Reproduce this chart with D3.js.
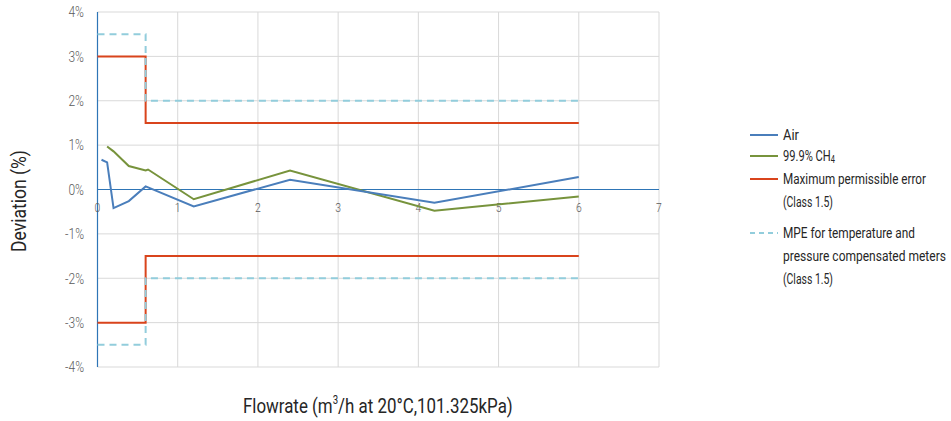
<!DOCTYPE html>
<html><head><meta charset="utf-8">
<script src="https://cdn.jsdelivr.net/npm/d3@7"></script>
<style>body{margin:0;background:#fff}text{font-family:"Roboto",sans-serif}</style>
</head><body><svg id="c" width="951" height="421"></svg>
<script>
const airX = [0.05, 0.12, 0.2, 0.39, 0.6, 1.2, 2.4, 4.2, 6];
const airY = [0.67, 0.61, -0.42, -0.26, 0.07, -0.38, 0.22, -0.3, 0.28];
const ch4X = [0.12, 0.2, 0.39, 0.6, 0.63, 1.2, 2.4, 4.2, 6];
const ch4Y = [0.97, 0.86, 0.53, 0.43, 0.45, -0.22, 0.43, -0.48, -0.16];
const mpeUpX = [0, 0.6, 0.6, 6];
const mpeUpY = [3, 3, 1.5, 1.5];
const mpeLoY = [-3, -3, -1.5, -1.5];
const tpUpX = [0, 0.6, 0.6, 6];
const tpUpY = [3.5, 3.5, 2, 2];
const tpLoY = [-3.5, -3.5, -2, -2];
const xTicks = [0, 1, 2, 3, 4, 5, 6, 7];
const yTicks = [-4, -3, -2, -1, 0, 1, 2, 3, 4];

const svg = d3.select("#c");
const x = d3.scaleLinear().domain([0, 7]).range([97.5, 659]);
const y = d3.scaleLinear().domain([-4, 4]).range([367, 12]);
const line = d3.line().x(d => x(d[0])).y(d => y(d[1]));
const zip = (a, b) => a.map((v, i) => [v, b[i]]);

// condensed text: g translated to (px,py), text scaled horizontally
function ctext(parent, px, py, opts) {
  const g = parent.append("g");
  const t = g.append("text").attr("font-size", opts.size).attr("fill", opts.fill)
    .attr("font-weight", opts.weight || 400).attr("text-anchor", opts.anchor || "start")
    .attr("dy", opts.dy || null);
  opts.build(t);
  let sx = opts.sx;
  if (opts.width) sx = opts.width / t.node().getComputedTextLength();
  g.attr("transform", `translate(${px},${py})${opts.rot ? " rotate(" + opts.rot + ")" : ""} scale(${sx},1)`);
  return t;
}

// gridlines
svg.append("g").selectAll("line").data(yTicks).join("line")
  .attr("x1", x(0)).attr("x2", x(7)).attr("y1", d => y(d)).attr("y2", d => y(d))
  .attr("stroke", "#d9d9d9").attr("stroke-width", 1);
svg.append("g").selectAll("line").data(xTicks.slice(1)).join("line")
  .attr("x1", d => x(d)).attr("x2", d => x(d)).attr("y1", y(4)).attr("y2", y(-4))
  .attr("stroke", "#d9d9d9").attr("stroke-width", 1);

// axes lines
svg.append("line").attr("x1", x(0)).attr("x2", x(0)).attr("y1", y(4)).attr("y2", y(-4))
  .attr("stroke", "#2e75b6").attr("stroke-width", 1.2);
svg.append("line").attr("x1", x(0)).attr("x2", x(7)).attr("y1", y(0)).attr("y2", y(0))
  .attr("stroke", "#2e75b6").attr("stroke-width", 1.2);

// tick labels
const yt = svg.append("g");
yTicks.forEach(v => ctext(yt, 84, y(v), {size: 15, fill: "#595959", weight: 300, anchor: "end", dy: "0.35em", sx: 0.8,
  build: t => t.text(v + "%")}));
const xtk = svg.append("g");
xTicks.forEach(v => ctext(xtk, x(v), y(0) + 22, {size: 13, fill: "#595959", weight: 300, anchor: "middle", sx: 0.8,
  build: t => t.text(v)}));

// series
const red = "#d9441c", lb = "#92cddc";
svg.append("path").attr("d", line(zip(mpeUpX, mpeUpY))).attr("fill", "none").attr("stroke", red).attr("stroke-width", 2);
svg.append("path").attr("d", line(zip(mpeUpX, mpeLoY))).attr("fill", "none").attr("stroke", red).attr("stroke-width", 2);
svg.append("path").attr("d", line(zip(tpUpX, tpUpY))).attr("fill", "none").attr("stroke", lb).attr("stroke-width", 2).attr("stroke-dasharray", "7,5");
svg.append("path").attr("d", line(zip(tpUpX, tpLoY))).attr("fill", "none").attr("stroke", lb).attr("stroke-width", 2).attr("stroke-dasharray", "7,5");
svg.append("path").attr("d", line(zip(ch4X, ch4Y))).attr("fill", "none").attr("stroke", "#77933c").attr("stroke-width", 2);
svg.append("path").attr("d", line(zip(airX, airY))).attr("fill", "none").attr("stroke", "#4a7ebb").attr("stroke-width", 2);

// axis titles
ctext(svg, 26, 201, {size: 21, fill: "#262626", anchor: "middle", rot: -90, width: 102,
  build: t => t.text("Deviation (%)")});
ctext(svg, 243, 413, {size: 21, fill: "#262626", width: 270,
  build: t => {
    t.append("tspan").text("Flowrate (m");
    t.append("tspan").attr("font-size", 12).attr("dy", -9).text("3");
    t.append("tspan").attr("dy", 9).text("/h at 20°C,101.325kPa)");
  }});

// legend
const lg = svg.append("g");
const items = [
  {c: "#4a7ebb", y: 135, lines: ["Air"], w: [16]},
  {c: "#77933c", y: 156, lines: ["99.9% CH"], w: [52], sub: "4"},
  {c: red, y: 179, lines: ["Maximum permissible error", "(Class 1.5)"], w: [143, 50]},
  {c: lb, y: 233, dash: true, lines: ["MPE for temperature and", "pressure compensated meters", "(Class 1.5)"], w: [132, 163, 50]}
];
items.forEach(it => {
  lg.append("line").attr("x1", 750).attr("x2", 778).attr("y1", it.y).attr("y2", it.y)
    .attr("stroke", it.c).attr("stroke-width", 2).attr("stroke-dasharray", it.dash ? "5,4" : null);
  it.lines.forEach((t, i) => {
    ctext(lg, 783, it.y + i * 23, {size: 15, fill: "#262626", dy: "0.35em", width: it.w[i],
      build: tx => {
        tx.append("tspan").text(t);
        if (it.sub && i === 0) tx.append("tspan").attr("font-size", 10).attr("dy", 2).text(it.sub);
      }});
  });
});
</script></body></html>
